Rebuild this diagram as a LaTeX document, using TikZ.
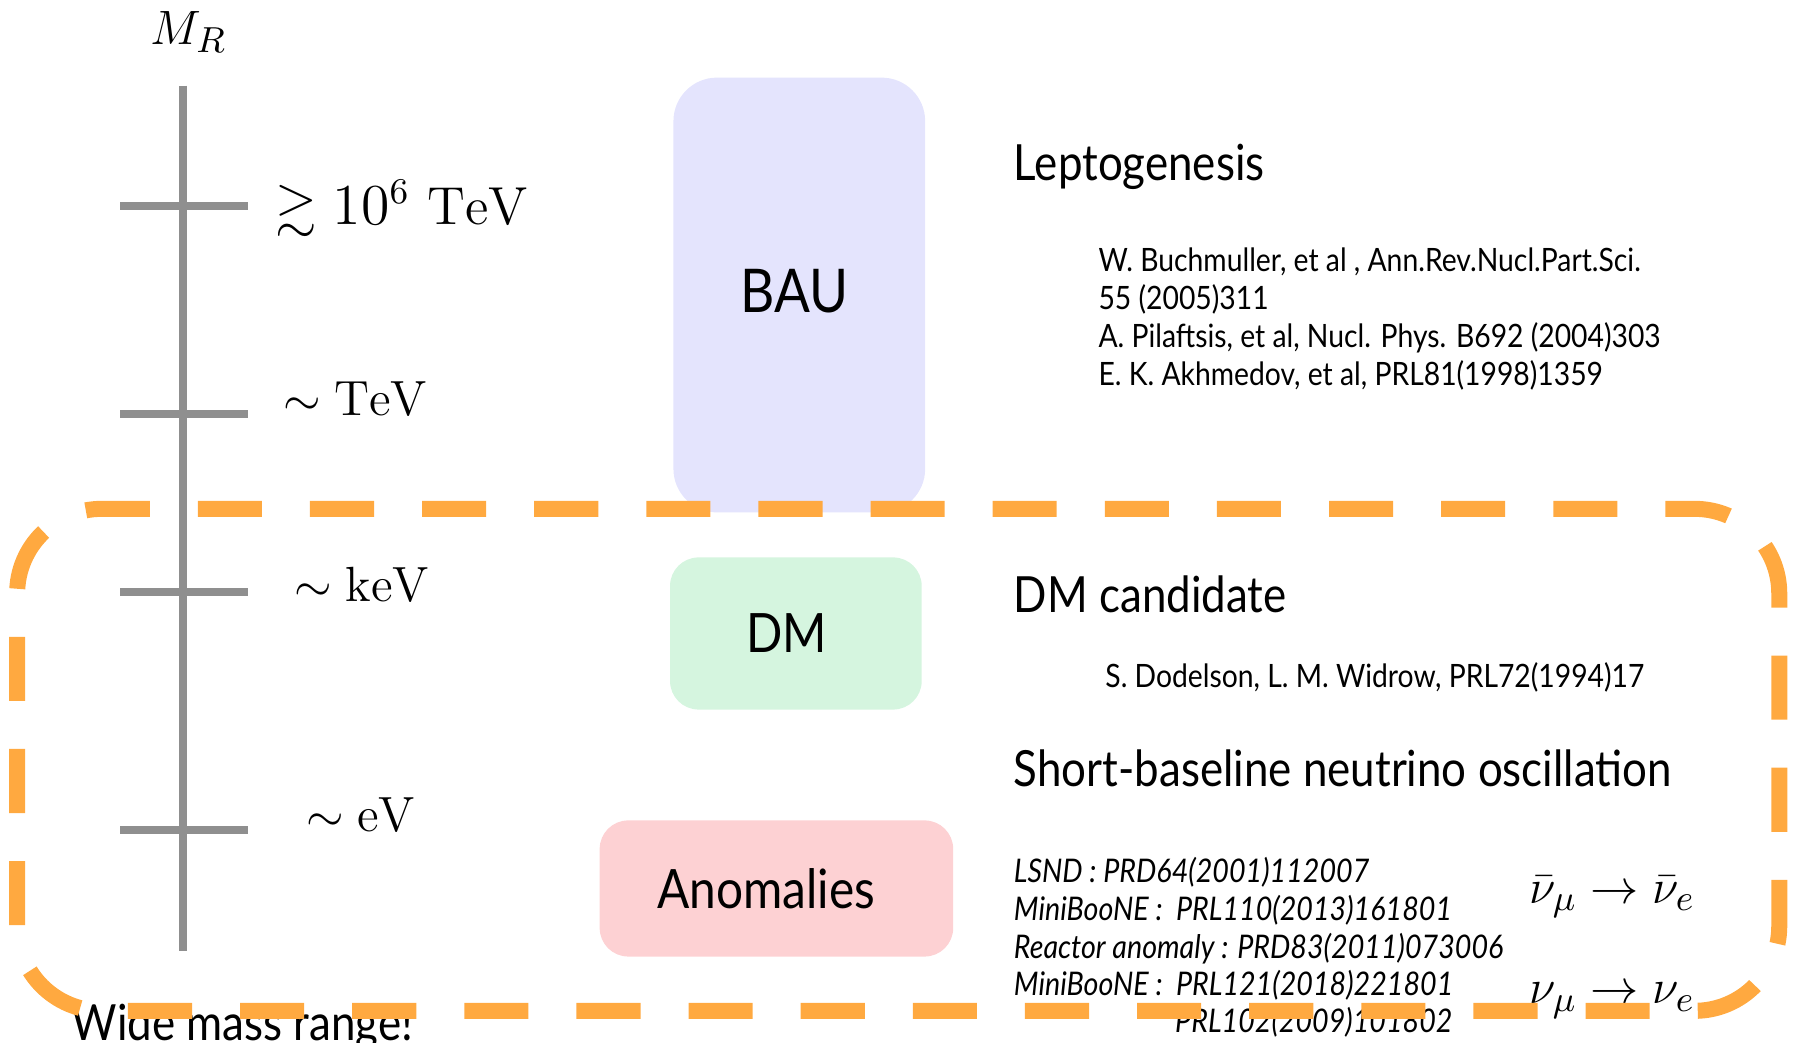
\documentclass[tikz,border=0pt]{standalone}
\usepackage{amsmath,amssymb}
\usepackage{fontspec}
\newfontfamily\gill{Lato}[FakeStretch=0.88]
\usetikzlibrary{positioning}

\definecolor{axisgray}{HTML}{8F8F8F}
\definecolor{bandorange}{HTML}{FFA940}
\definecolor{baublue}{HTML}{E4E4FD}
\definecolor{dmgreen}{HTML}{D5F5DF}
\definecolor{anored}{HTML}{FDD1D3}

\begin{document}
\begin{tikzpicture}[x=0.01cm, y=0.01cm,
    bar/.style={axisgray, line width=0.7mm},
    blob/.style={rounded corners=2.5mm, inner sep=0pt, font=\gill\fontsize{13.5}{15}\selectfont},
    title/.style={anchor=base west, inner sep=0pt, font=\gill\fontsize{12.4}{14}\selectfont},
    refs/.style={anchor=base west, align=left, inner sep=0pt, font=\gill\fontsize{8.0}{9.4}\selectfont},
    itrefs/.style={refs, font=\gill\itshape\fontsize{8.1}{9.4}\selectfont},
    masslabel/.style={anchor=base west, inner sep=0pt, font=\fontsize{12.3}{14}\selectfont},
    osc/.style={anchor=base, inner sep=0pt, font=\fontsize{12.2}{14}\selectfont}]
    \useasboundingbox (0,0) rectangle (1568,912);

    % mass scale
    \node[font=\fontsize{12.5}{14}\selectfont] (mr) at (165,884) {$M_R$};
    \coordinate (axistop) at (160,837);
    \coordinate (axisbot) at (160,80);
    \draw[bar] (axistop) -- (axisbot);
    \foreach \y/\n in {732/high, 550/tev, 394/kev, 186/ev} {
        \coordinate (\n l) at (105,\y);
        \coordinate (\n r) at (217,\y);
        \draw[bar] (\n l) -- (\n r);
    }
    \node[masslabel, font=\fontsize{13.3}{15}\selectfont] (highlab) at (240,716) {$\gtrsim 10^6\ \mathrm{TeV}$};
    \node[masslabel] (tevlab) at (247,549) {$\sim \mathrm{TeV}$};
    \node[masslabel] (kevlab) at (257,386) {$\sim \mathrm{keV}$};
    \node[masslabel] (evlab) at (267,185) {$\sim \mathrm{eV}$};

    % physics boxes
    \node[blob, fill=baublue, rounded corners=3.8mm, minimum width=2.2cm, minimum height=3.8cm,
          font=\gill\fontsize{15}{17}\selectfont] (bau) at (699,654) {\raisebox{0.8mm}{BAU}\kern0.8mm};
    \node[blob, fill=dmgreen, minimum width=2.2cm, minimum height=1.33cm] (dm) at (696,358) {DM\kern1.6mm};
    \node[blob, fill=anored, minimum width=3.09cm, minimum height=1.19cm] (anom) at (679,135) {Anomalies\kern1.8mm};

    % motivations and references (base = last line)
    \node[title] (lepto) at (886,754) {Leptogenesis};
    \node[refs] (leptorefs) at (960,575) {W. Buchmuller, et al , Ann.Rev.Nucl.Part.Sci.\\
        55 (2005)311\\
        A. Pilaftsis, et al, Nucl. Phys. B692 (2004)303\\
        E. K. Akhmedov, et al, PRL81(1998)1359};
    \node[title] (dmcand) at (886,376) {DM candidate};
    \node[refs] (dmrefs) at (966,311) {S. Dodelson, L. M. Widrow, PRL72(1994)17};
    \node[title] (sbl) at (886,224) {Short-baseline neutrino oscillation};
    \node[itrefs] (sblrefs) at (886,41) {LSND : PRD64(2001)112007\\
        MiniBooNE :\ \ PRL110(2013)161801\\
        Reactor anomaly : PRD83(2011)073006\\
        MiniBooNE :\ \ PRL121(2018)221801};
    \node[itrefs] (sblrefb) at (1027,9) {PRL102(2009)101802};
    \node[osc] (antinu) at (1410,122) {$\bar\nu_\mu \to \bar\nu_e$};
    \node[osc] (nu) at (1410,34) {$\nu_\mu \to \nu_e$};

    \node[title] (wide) at (62,2) {Wide mass range!};

    % light sterile region
    \coordinate (bandstart) at (700,467);
    \draw[bandorange, line width=1.4mm, rounded corners=7.4mm,
          dash pattern=on 0.56cm off 0.42cm, dash phase=0.04cm]
        (bandstart) -- (1556,467) -- (1556,28) -- (15,28) -- (15,467) -- cycle;
\end{tikzpicture}
\end{document}
